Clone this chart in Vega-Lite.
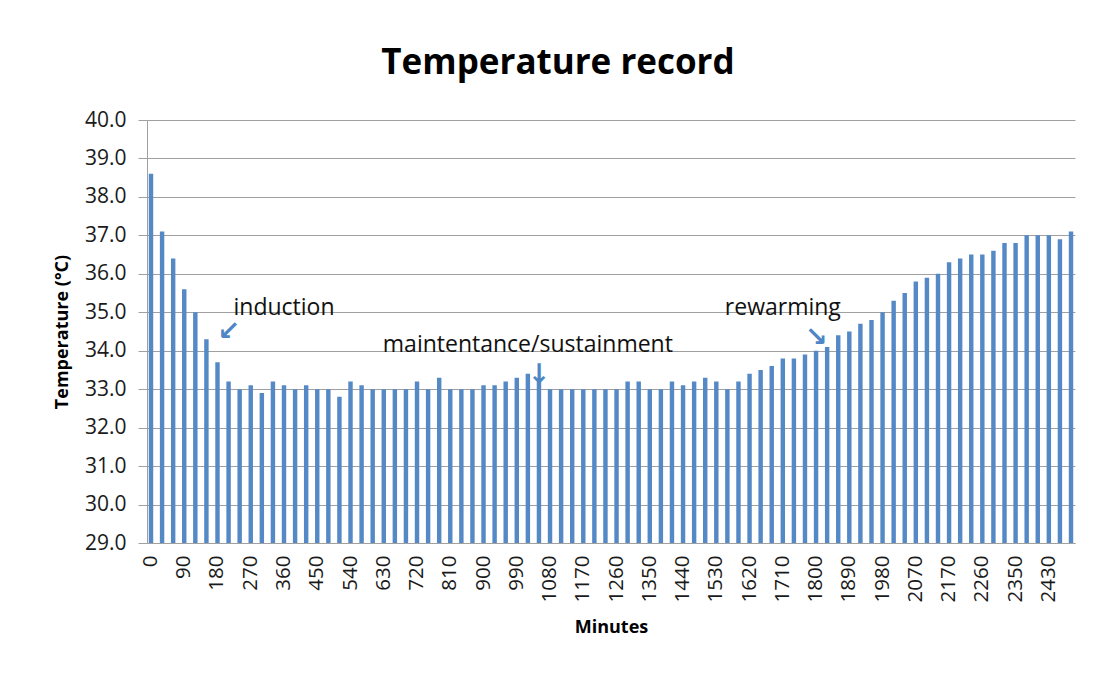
{
  "$schema": "https://vega.github.io/schema/vega-lite/v6.json",
  "width": 928,
  "height": 423,
  "autosize": {"type": "none"},
  "padding": {"left": 147, "top": 120, "right": 21, "bottom": 130},
  "background": "white",
  "config": {
    "view": {"stroke": null},
    "font": "Open Sans",
    "axis": {"labelFont": "Open Sans", "titleFont": "Open Sans", "labelColor": "#1a1a1a", "titleColor": "#000000"}
  },
  "title": {
    "text": "Temperature record",
    "font": "Open Sans",
    "fontSize": 35,
    "fontWeight": "bold",
    "color": "#000000",
    "anchor": "middle",
    "dx": -53,
    "offset": 28
  },
  "datasets": {
    "temps": [
      {"Minutes": 0, "Temp": 38.6}, {"Minutes": 30, "Temp": 37.1}, {"Minutes": 60, "Temp": 36.4},
      {"Minutes": 90, "Temp": 35.6}, {"Minutes": 120, "Temp": 35.0}, {"Minutes": 150, "Temp": 34.3},
      {"Minutes": 180, "Temp": 33.7}, {"Minutes": 210, "Temp": 33.2}, {"Minutes": 240, "Temp": 33.0},
      {"Minutes": 270, "Temp": 33.1}, {"Minutes": 300, "Temp": 32.9}, {"Minutes": 330, "Temp": 33.2},
      {"Minutes": 360, "Temp": 33.1}, {"Minutes": 390, "Temp": 33.0}, {"Minutes": 420, "Temp": 33.1},
      {"Minutes": 450, "Temp": 33.0}, {"Minutes": 480, "Temp": 33.0}, {"Minutes": 510, "Temp": 32.8},
      {"Minutes": 540, "Temp": 33.2}, {"Minutes": 570, "Temp": 33.1}, {"Minutes": 600, "Temp": 33.0},
      {"Minutes": 630, "Temp": 33.0}, {"Minutes": 660, "Temp": 33.0}, {"Minutes": 690, "Temp": 33.0},
      {"Minutes": 720, "Temp": 33.2}, {"Minutes": 750, "Temp": 33.0}, {"Minutes": 780, "Temp": 33.3},
      {"Minutes": 810, "Temp": 33.0}, {"Minutes": 840, "Temp": 33.0}, {"Minutes": 870, "Temp": 33.0},
      {"Minutes": 900, "Temp": 33.1}, {"Minutes": 930, "Temp": 33.1}, {"Minutes": 960, "Temp": 33.2},
      {"Minutes": 990, "Temp": 33.3}, {"Minutes": 1020, "Temp": 33.4}, {"Minutes": 1050, "Temp": 33.2},
      {"Minutes": 1080, "Temp": 33.0}, {"Minutes": 1110, "Temp": 33.0}, {"Minutes": 1140, "Temp": 33.0},
      {"Minutes": 1170, "Temp": 33.0}, {"Minutes": 1200, "Temp": 33.0}, {"Minutes": 1230, "Temp": 33.0},
      {"Minutes": 1260, "Temp": 33.0}, {"Minutes": 1290, "Temp": 33.2}, {"Minutes": 1320, "Temp": 33.2},
      {"Minutes": 1350, "Temp": 33.0}, {"Minutes": 1380, "Temp": 33.0}, {"Minutes": 1410, "Temp": 33.2},
      {"Minutes": 1440, "Temp": 33.1}, {"Minutes": 1470, "Temp": 33.2}, {"Minutes": 1500, "Temp": 33.3},
      {"Minutes": 1530, "Temp": 33.2}, {"Minutes": 1560, "Temp": 33.0}, {"Minutes": 1590, "Temp": 33.2},
      {"Minutes": 1620, "Temp": 33.4}, {"Minutes": 1650, "Temp": 33.5}, {"Minutes": 1680, "Temp": 33.6},
      {"Minutes": 1710, "Temp": 33.8}, {"Minutes": 1740, "Temp": 33.8}, {"Minutes": 1770, "Temp": 33.9},
      {"Minutes": 1800, "Temp": 34.0}, {"Minutes": 1830, "Temp": 34.1}, {"Minutes": 1860, "Temp": 34.4},
      {"Minutes": 1890, "Temp": 34.5}, {"Minutes": 1920, "Temp": 34.7}, {"Minutes": 1950, "Temp": 34.8},
      {"Minutes": 1980, "Temp": 35.0}, {"Minutes": 2010, "Temp": 35.3}, {"Minutes": 2040, "Temp": 35.5},
      {"Minutes": 2070, "Temp": 35.8}, {"Minutes": 2100, "Temp": 35.9}, {"Minutes": 2140, "Temp": 36.0},
      {"Minutes": 2170, "Temp": 36.3}, {"Minutes": 2200, "Temp": 36.4}, {"Minutes": 2230, "Temp": 36.5},
      {"Minutes": 2260, "Temp": 36.5}, {"Minutes": 2290, "Temp": 36.6}, {"Minutes": 2320, "Temp": 36.8},
      {"Minutes": 2350, "Temp": 36.8}, {"Minutes": 2380, "Temp": 37.0}, {"Minutes": 2400, "Temp": 37.0},
      {"Minutes": 2430, "Temp": 37.0}, {"Minutes": 2460, "Temp": 36.9}, {"Minutes": 2490, "Temp": 37.1}
    ],
    "labels": [
      {"Minutes": 360, "Temp": 35.12, "text": "induction"},
      {"Minutes": 1020, "Temp": 34.15, "text": "maintentance/sustainment"},
      {"Minutes": 1710, "Temp": 35.1, "text": "rewarming"}
    ],
    "arrows": [
      {"Minutes": 210, "Temp": 34.5, "glyph": "↙"},
      {"Minutes": 1050, "Temp": 33.36, "glyph": "↓"},
      {"Minutes": 1800, "Temp": 34.33, "glyph": "↘"}
    ]
  },
  "encoding": {
    "x": {
      "field": "Minutes",
      "type": "ordinal",
      "scale": {"paddingInner": 0.6, "paddingOuter": 0.16},
      "axis": {
        "title": "Minutes",
        "titleFontSize": 18,
        "titleFontWeight": "bold",
        "titlePadding": 17,
        "labelAngle": -90,
        "labelFontSize": 20.5,
        "labelPadding": 12,
        "ticks": false,
        "domainColor": "#a0a0a0",
        "labelOverlap": false,
        "values": [0, 90, 180, 270, 360, 450, 540, 630, 720, 810, 900, 990, 1080, 1170, 1260, 1350, 1440, 1530, 1620, 1710, 1800, 1890, 1980, 2070, 2170, 2260, 2350, 2430]
      }
    },
    "y": {
      "field": "Temp",
      "type": "quantitative",
      "scale": {"domain": [29, 40], "zero": false, "nice": false},
      "axis": {
        "title": "Temperature (°C)",
        "titleFontSize": 18,
        "titleFontWeight": "bold",
        "titlePadding": 13,
        "values": [29, 30, 31, 32, 33, 34, 35, 36, 37, 38, 39, 40],
        "format": ".1f",
        "labelFontSize": 21,
        "labelPadding": 12,
        "tickSize": 9,
        "tickColor": "#a0a0a0",
        "domainColor": "#a0a0a0",
        "grid": true,
        "gridColor": "#a0a0a0",
        "gridOpacity": 1
      }
    }
  },
  "layer": [
    {
      "data": {"name": "temps"},
      "mark": {"type": "bar", "color": "#5589c6"},
      "encoding": {"y2": {"datum": 29}}
    },
    {
      "data": {"name": "labels"},
      "mark": {"type": "text", "font": "Open Sans", "fontSize": 23, "color": "#111111", "align": "center", "baseline": "middle"},
      "encoding": {"text": {"field": "text"}}
    },
    {
      "data": {"name": "arrows"},
      "mark": {"type": "text", "font": "DejaVu Sans", "fontSize": 27, "fontWeight": "bold", "color": "#4f86c6", "align": "center", "baseline": "middle"},
      "encoding": {"text": {"field": "glyph"}}
    }
  ]
}
